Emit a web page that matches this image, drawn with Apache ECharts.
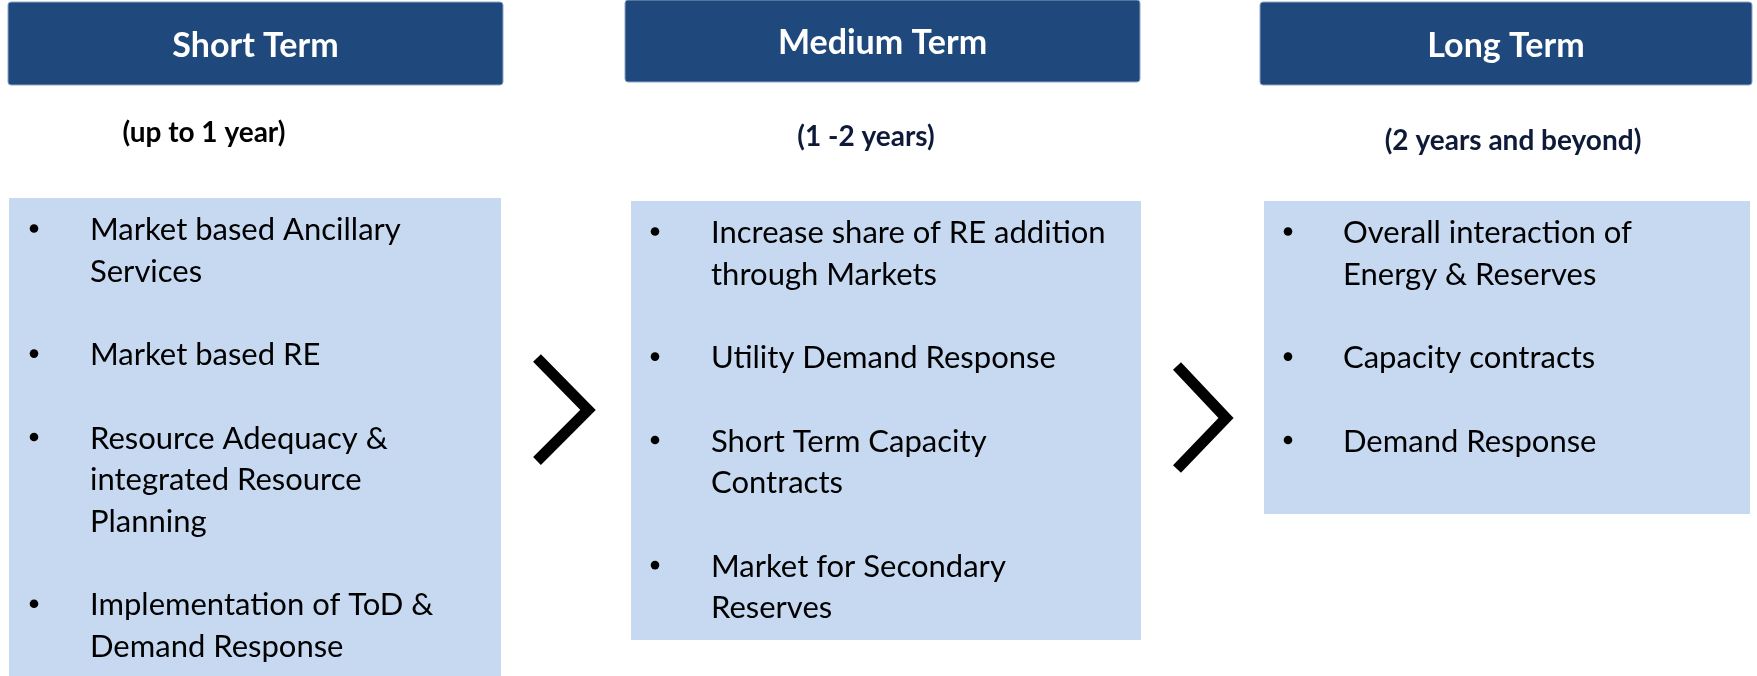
<!DOCTYPE html>
<html>
<head>
<meta charset="utf-8">
<script src="https://cdn.jsdelivr.net/npm/echarts@6/dist/echarts.min.js"></script>
<style>
html,body{margin:0;padding:0;background:#fff;}
#chart{width:1757px;height:676px;}
</style>
</head>
<body>
<div id="chart"></div>
<script>
// ---- content ----
const columns = ['Short Term', 'Medium Term', 'Long Term'];
const horizons = ['(up to 1 year)', '(1 -2 years)', '(2 years and beyond)'];
const shortTermItems = [
  ['Market based Ancillary', 'Services'],
  ['Market based RE'],
  ['Resource Adequacy &', 'integrated Resource', 'Planning'],
  ['Implementation of ToD &', 'Demand Response']
];
const mediumTermItems = [
  ['Increase share of RE addition', 'through Markets'],
  ['Utility Demand Response'],
  ['Short Term Capacity', 'Contracts'],
  ['Market for Secondary', 'Reserves']
];
const longTermItems = [
  ['Overall interaction of', 'Energy & Reserves'],
  ['Capacity contracts'],
  ['Demand Response']
];
const columnItems = [shortTermItems, mediumTermItems, longTermItems];
const arrows = [0, 1];

// ---- layout (pixel space of the page) ----
const W = 1757, H = 676;
const layout = [
  { head: [8, 2, 503, 85],  sub: [204, 142], body: [9, 198, 501, 690],  bullet: 34,  text: 90,  base: 240, subColor: '#000000' },
  { head: [625, 0, 1140, 82], sub: [866, 146], body: [631, 201, 1141, 640], bullet: 655, text: 711, base: 243, subColor: '#0e1a38' },
  { head: [1260, 2, 1752, 85], sub: [1513, 150], body: [1264, 201, 1750, 514], bullet: 1288, text: 1343, base: 243, subColor: '#0e1a38' }
];
const arrowLayout = [
  [[537, 358], [588, 410], [537, 461]],
  [[1177, 366], [1226, 418], [1177, 469]]
];
const LINE = 41.7;
const BODY_FS = 31, HEAD_FS = 34, SUB_FS = 28;
const FONT = 'Lato';

const chart = echarts.init(document.getElementById('chart'), null, { renderer: 'canvas' });

function rectFrom(api, b) {
  const p0 = api.coord([b[0], b[1]]);
  const p1 = api.coord([b[2], b[3]]);
  return { x: p0[0], y: p0[1], width: p1[0] - p0[0], height: p1[1] - p0[1] };
}

function renderColumn(params, api) {
  const i = api.value(0);
  const L = layout[i];
  const children = [];
  // body box
  children.push({ type: 'rect', shape: rectFrom(api, L.body), style: { fill: '#c6d9f1' } });
  // header
  const hr = rectFrom(api, L.head);
  children.push({ type: 'rect', shape: Object.assign({ r: 3 }, hr), style: { fill: '#1f497d', stroke: '#8da6c6', lineWidth: 1 } });
  children.push({ type: 'text', x: hr.x + hr.width / 2, y: hr.y + hr.height / 2 + 2.5,
    style: { text: columns[i], fill: '#ffffff', font: 'bold ' + HEAD_FS + 'px ' + FONT, align: 'center', verticalAlign: 'middle' } });
  // horizon subtitle
  const sp = api.coord([L.sub[0], L.sub[1] - 0.32 * SUB_FS]);
  children.push({ type: 'text', x: sp[0], y: sp[1],
    style: { text: horizons[i], fill: L.subColor, font: 'bold ' + SUB_FS + 'px ' + FONT, align: 'center', verticalAlign: 'middle' } });
  // items
  let row = 0;
  columnItems[i].forEach(function (item) {
    const bBase = L.base + row * LINE;
    const bp = api.coord([L.bullet, bBase - 11.5]);
    children.push({ type: 'circle', shape: { cx: bp[0], cy: bp[1], r: 4.3 }, style: { fill: '#000' } });
    item.forEach(function (line) {
      const base = L.base + row * LINE;
      const tp = api.coord([L.text, base - 0.32 * BODY_FS]);
      children.push({ type: 'text', x: tp[0], y: tp[1],
        style: { text: line, fill: '#000', font: BODY_FS + 'px ' + FONT, align: 'left', verticalAlign: 'middle' } });
      row++;
    });
    row++; // blank line between items
  });
  return { type: 'group', children: children };
}

function renderArrow(params, api) {
  const k = api.value(0);
  const pts = arrowLayout[k].map(function (p) { return api.coord(p); });
  return { type: 'polyline', shape: { points: pts },
    style: { stroke: '#000', lineWidth: 11, fill: null, lineJoin: 'miter', lineCap: 'butt' } };
}

chart.setOption({
  animation: false,
  backgroundColor: '#ffffff',
  grid: { left: 0, right: 0, top: 0, bottom: 0 },
  xAxis: { type: 'value', min: 0, max: W, show: false },
  yAxis: { type: 'value', min: 0, max: H, inverse: true, show: false },
  series: [
    { type: 'custom', coordinateSystem: 'cartesian2d', clip: false,
      data: columns.map(function (c, i) { return [i]; }), renderItem: renderColumn, silent: true },
    { type: 'custom', coordinateSystem: 'cartesian2d', clip: false,
      data: arrows.map(function (a) { return [a]; }), renderItem: renderArrow, silent: true }
  ]
});
</script>
</body>
</html>
